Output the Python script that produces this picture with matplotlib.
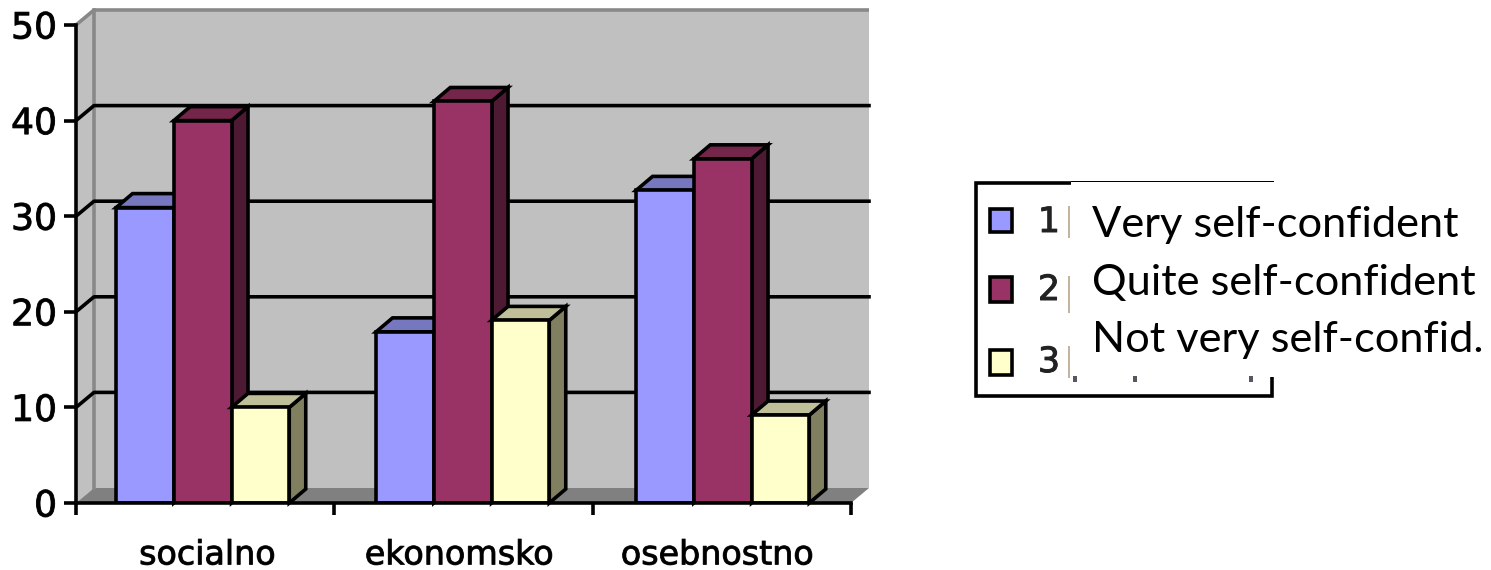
import matplotlib
matplotlib.use("Agg")
import matplotlib.pyplot as plt
import matplotlib.patheffects as pe
from matplotlib.patches import Polygon, Rectangle

# Datos
categorias = ["socialno", "ekonomsko", "osebnostno"]
serie1 = [30.9, 17.9, 32.7]
serie2 = [40, 42, 36]
serie3 = [10, 19.1, 9.2]
ticks_y = [0, 10, 20, 30, 40, 50]
numeros_leyenda = ["1", "2", "3"]
textos_leyenda = ["Very self-confident", "Quite self-confident", "Not very self-confid."]

W, H = 1491, 570
LW = 3.6 * 0.72
grueso = [pe.withStroke(linewidth=0.7, foreground="#222222")]

def fx(x):
    return x / W

def fy(y):
    return 1 - y / H

fig = plt.figure(figsize=(W / 100, H / 100), dpi=100)
ax = fig.add_axes([fx(76), fy(503), (851 - 76) / W, (503 - 25) / H])
ax.set_xlim(0, 3)
ax.set_ylim(0, 50)

# Profundidad del efecto 3D (en unidades de datos)
dx = 18 / (775 / 3)
dy = 15 / (478 / 50)
dxb = 16.5 / (775 / 3)
dyb = 14 / (478 / 50)

# Paredes
ax.add_patch(Polygon([(0, 0), (dx, dy), (dx, 50 + dy), (0, 50)], fc="#C0C0C0", ec="none", clip_on=False, zorder=1))
ax.add_patch(Rectangle((dx, dy), 3, 50, fc="#C0C0C0", ec="none", clip_on=False, zorder=1))
ax.add_patch(Polygon([(0, 0), (3, 0), (3 + dx, dy), (dx, dy)], fc="#808080", ec="none", clip_on=False, zorder=1))
ax.plot([0, dx, 3 + dx], [50, 50 + dy, 50 + dy], color="#888888", lw=LW, clip_on=False, zorder=2,
        solid_capstyle="butt")
ax.plot([dx, dx], [dy, 50 + dy], color="#888888", lw=LW, clip_on=False, zorder=2)

# Rejilla
for t in ticks_y[1:-1]:
    ax.plot([0, dx, 3 + dx], [t, t + dy, t + dy], color="black", lw=LW, clip_on=False, zorder=3)

# Barras
series = [serie1, serie2, serie3]
frente = ["#9999FF", "#993366", "#FFFFCC"]
arriba = ["#7777BF", "#732649", "#BFBF99"]
lado = ["#4D4D80", "#4D1933", "#808060"]
ancho = 0.2235
paso = 1.0065
z = 4
for i in range(len(categorias)):
    for s in range(3):
        x0 = i * paso + 0.155 + s * ancho
        v = series[s][i]
        ax.add_patch(Polygon([(x0 + ancho, 0), (x0 + ancho + dxb, dyb), (x0 + ancho + dxb, v + dyb), (x0 + ancho, v)],
                             fc=lado[s], ec="black", lw=LW, clip_on=False, zorder=z, joinstyle="miter"))
        ax.add_patch(Polygon([(x0, v), (x0 + dxb, v + dyb), (x0 + ancho + dxb, v + dyb), (x0 + ancho, v)],
                             fc=arriba[s], ec="black", lw=LW, clip_on=False, zorder=z, joinstyle="miter"))
        ax.bar(x0, v, width=ancho, align="edge", color=frente[s], edgecolor="black", linewidth=LW, zorder=z + 1)
        z += 2

# Ejes
for lado_sp in ["top", "right"]:
    ax.spines[lado_sp].set_visible(False)
for lado_sp in ["left", "bottom"]:
    ax.spines[lado_sp].set_linewidth(LW)
    ax.spines[lado_sp].set_zorder(50)
ax.set_yticks(ticks_y)
ax.tick_params(axis="y", length=12 * 0.72, width=LW, labelsize=26, pad=5, zorder=50)
for lab in ax.get_yticklabels():
    lab.set_path_effects(grueso)
ax.set_xticks([0, 1, 2, 3])
ax.set_xticklabels([])
ax.tick_params(axis="x", which="major", length=12 * 0.72, width=LW)
ax.set_xticks([0.509, 1.484, 2.483], minor=True)
ax.set_xticklabels(categorias, minor=True, fontsize=24, path_effects=grueso)
ax.tick_params(axis="x", which="minor", length=0, pad=25.5)

# Leyenda
fig.add_artist(Rectangle((fx(976), fy(396)), (1272 - 976) / W, (396 - 183) / H, transform=fig.transFigure,
                         fc="white", ec="black", lw=LW))
marcas_y = [(208, 233), (276, 303), (349, 376)]
num_y = [222, 290, 362]
for k in range(3):
    y0, y1 = marcas_y[k]
    fig.add_artist(Rectangle((fx(990), fy(y1 - 1)), 22 / W, (y1 - y0 - 2) / H, transform=fig.transFigure,
                             fc=frente[k], ec="black", lw=LW))
    fig.text(fx(1049), fy(num_y[k]), numeros_leyenda[k], fontsize=25, ha="center", va="center", color="#222222",
             path_effects=grueso)

# Recuadro blanco superpuesto con el texto en ingles
fig.add_artist(Rectangle((fx(1071), fy(377)), (1274 - 1071) / W, (377 - 181) / H, transform=fig.transFigure,
                         fc="white", ec="none"))
fig.add_artist(Rectangle((fx(1071), fy(182)), (1274 - 1071) / W, 1.5 / H, transform=fig.transFigure,
                         fc="black", ec="none"))
# Restos de las letras tapadas
for x_r in [1073, 1133, 1249]:
    fig.add_artist(Rectangle((fx(x_r), fy(382)), 4 / W, 6 / H, transform=fig.transFigure, fc="#5A5560", ec="none"))
for y0, y1 in [(206, 238), (276, 313), (346, 378)]:
    fig.add_artist(Rectangle((fx(1068), fy(y1)), 2 / W, (y1 - y0) / H, transform=fig.transFigure,
                             fc="#C4B49E", ec="none"))
base_y = [237, 295, 352]
for k in range(3):
    fig.text(fx(1092), fy(base_y[k]), textos_leyenda[k], fontsize=31.2, family="Lato", ha="left", va="baseline",
             color="black")

fig.savefig("out.png", dpi=100)
